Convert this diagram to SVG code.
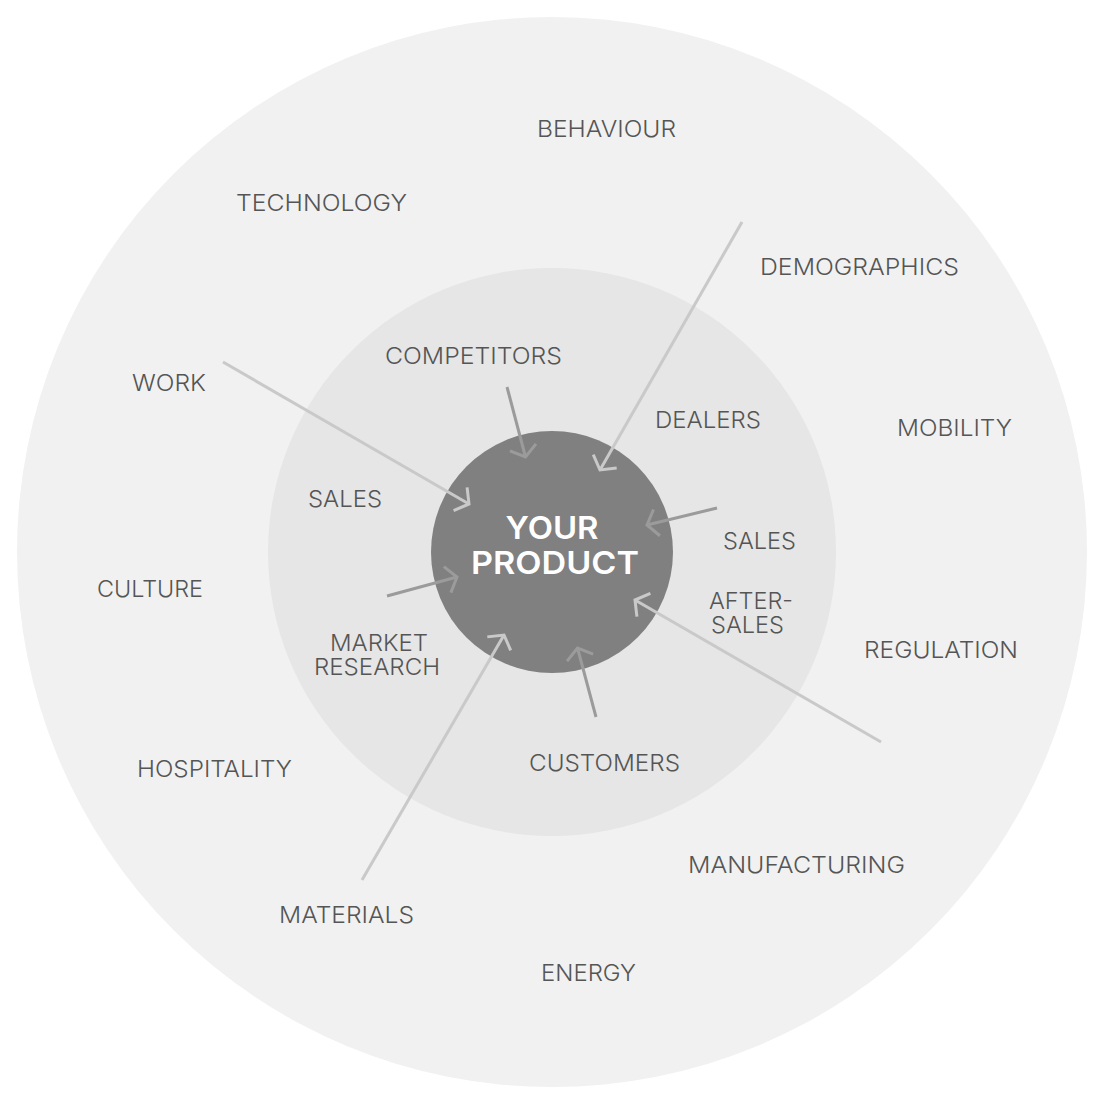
<svg xmlns="http://www.w3.org/2000/svg" width="1104" height="1104" viewBox="0 0 1104 1104">
<style>
.lbl{font-family:Inter,"Liberation Sans","DejaVu Sans",sans-serif;font-size:23px;font-weight:300;fill:#555555;}
.ctr{font-family:Inter,"Liberation Sans","DejaVu Sans",sans-serif;font-size:31px;font-weight:600;fill:#ffffff;text-anchor:middle;}
.light{stroke:#c9c9c9;stroke-width:3;fill:none;}
.dark{stroke:#9b9b9b;stroke-width:3;fill:none;}
</style>
<defs>
<marker id="ahL" markerUnits="userSpaceOnUse" orient="auto" markerWidth="30" markerHeight="30" viewBox="-15 -15 30 30" refX="0" refY="0" overflow="visible">
<path d="M-10,-13.5 L0,0 L-10,13.5" fill="none" stroke="#c9c9c9" stroke-width="3" stroke-linejoin="miter"/>
</marker>
<marker id="ahD" markerUnits="userSpaceOnUse" orient="auto" markerWidth="30" markerHeight="30" viewBox="-15 -15 30 30" refX="0" refY="0" overflow="visible">
<path d="M-10,-13.5 L0,0 L-10,13.5" fill="none" stroke="#9b9b9b" stroke-width="3" stroke-linejoin="miter"/>
</marker>
</defs>
<rect width="1104" height="1104" fill="#ffffff"/>
<g id="outer-ring"><circle cx="552" cy="552" r="535" fill="#f1f1f1"/></g>
<g id="inner-ring"><circle cx="552" cy="552" r="284" fill="#e6e6e6"/></g>
<g id="your-product">
<circle cx="552" cy="552" r="121" fill="#808080"/>
<text class="ctr"><tspan x="552" y="539" textLength="93" lengthAdjust="spacingAndGlyphs">YOUR</tspan><tspan x="555" y="574" textLength="168" lengthAdjust="spacingAndGlyphs">PRODUCT</tspan></text>
</g>
<g id="connectors">
<line class="light" x1="223" y1="362" x2="469" y2="504" marker-end="url(#ahL)"/>
<line class="light" x1="742" y1="222" x2="600" y2="470" marker-end="url(#ahL)"/>
<line class="light" x1="362" y1="880" x2="504" y2="635" marker-end="url(#ahL)"/>
<line class="light" x1="881" y1="742" x2="635" y2="600" marker-end="url(#ahL)"/>
<line class="dark" x1="507" y1="387" x2="525.5" y2="457" marker-end="url(#ahD)"/>
<line class="dark" x1="717" y1="508" x2="647" y2="525" marker-end="url(#ahD)"/>
<line class="dark" x1="387" y1="596" x2="457" y2="577" marker-end="url(#ahD)"/>
<line class="dark" x1="596" y1="717" x2="577.5" y2="648" marker-end="url(#ahD)"/>
</g>
<g id="outer-labels">
<g id="behaviour"><text class="lbl" x="537" y="137" textLength="139" lengthAdjust="spacingAndGlyphs">BEHAVIOUR</text></g>
<g id="technology"><text class="lbl" x="236" y="211" textLength="171" lengthAdjust="spacingAndGlyphs">TECHNOLOGY</text></g>
<g id="demographics"><text class="lbl" x="760" y="275" textLength="199" lengthAdjust="spacingAndGlyphs">DEMOGRAPHICS</text></g>
<g id="work"><text class="lbl" x="132" y="391" textLength="74" lengthAdjust="spacingAndGlyphs">WORK</text></g>
<g id="mobility"><text class="lbl" x="897" y="436" textLength="115" lengthAdjust="spacingAndGlyphs">MOBILITY</text></g>
<g id="culture"><text class="lbl" x="97" y="597" textLength="106" lengthAdjust="spacingAndGlyphs">CULTURE</text></g>
<g id="regulation"><text class="lbl" x="864" y="658" textLength="154" lengthAdjust="spacingAndGlyphs">REGULATION</text></g>
<g id="hospitality"><text class="lbl" x="137" y="777" textLength="155" lengthAdjust="spacingAndGlyphs">HOSPITALITY</text></g>
<g id="manufacturing"><text class="lbl" x="688" y="873" textLength="217" lengthAdjust="spacingAndGlyphs">MANUFACTURING</text></g>
<g id="materials"><text class="lbl" x="279" y="923" textLength="135" lengthAdjust="spacingAndGlyphs">MATERIALS</text></g>
<g id="energy"><text class="lbl" x="541" y="981" textLength="95" lengthAdjust="spacingAndGlyphs">ENERGY</text></g>
</g>
<g id="inner-labels">
<g id="competitors"><text class="lbl" x="385" y="364" textLength="177" lengthAdjust="spacingAndGlyphs">COMPETITORS</text></g>
<g id="dealers"><text class="lbl" x="655" y="428" textLength="106" lengthAdjust="spacingAndGlyphs">DEALERS</text></g>
<g id="sales-left"><text class="lbl" x="308" y="507" textLength="74" lengthAdjust="spacingAndGlyphs">SALES</text></g>
<g id="sales-right"><text class="lbl" x="723" y="549" textLength="73" lengthAdjust="spacingAndGlyphs">SALES</text></g>
<g id="after-sales">
<text class="lbl"><tspan x="709" y="609" textLength="84" lengthAdjust="spacingAndGlyphs">AFTER-</tspan><tspan x="711" y="633" textLength="73" lengthAdjust="spacingAndGlyphs">SALES</tspan></text>
</g>
<g id="market-research">
<text class="lbl"><tspan x="330" y="651" textLength="98" lengthAdjust="spacingAndGlyphs">MARKET</tspan><tspan x="314" y="675" textLength="126" lengthAdjust="spacingAndGlyphs">RESEARCH</tspan></text>
</g>
<g id="customers"><text class="lbl" x="529" y="771" textLength="151" lengthAdjust="spacingAndGlyphs">CUSTOMERS</text></g>
</g>
</svg>
